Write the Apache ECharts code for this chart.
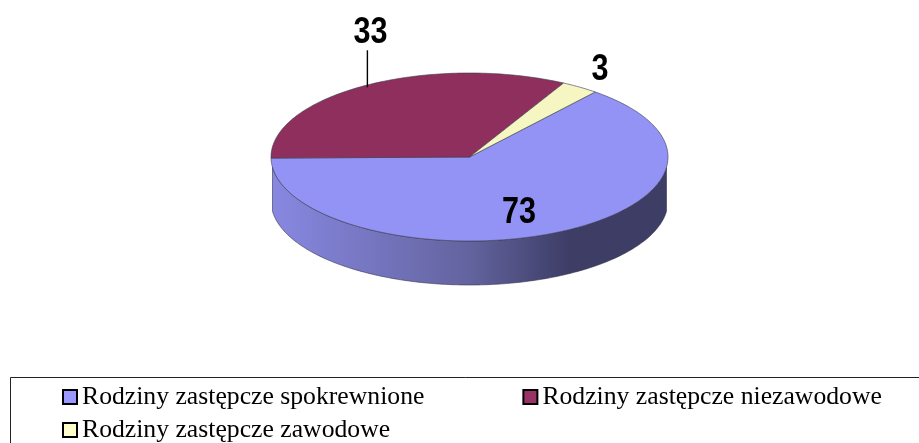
<!DOCTYPE html>
<html>
<head>
<meta charset="utf-8">
<style>
  html, body { margin: 0; padding: 0; background: #fff; overflow: hidden; }
  #chart { width: 919px; height: 443px; }
</style>
<script src="https://cdn.jsdelivr.net/npm/echarts@6/dist/echarts.min.js"></script>
</head>
<body>
<div id="chart"></div>
<script>
  "use strict";

  var categories = ["Rodziny zastępcze spokrewnione", "Rodziny zastępcze niezawodowe", "Rodziny zastępcze zawodowe"];
  var values = [73, 33, 3];
  var sliceOrder = [0, 2, 1];
  var faceColors = ["#9393F6", "#8F2F5E", "#F6F6C2"];
  var legendColors = ["#9999FF", "#993366", "#FFFFCC"];

  // pie geometry, the disc is an ellipse with a wall below it
  var CX = 469.5, CY = 157, RX = 198.5, RY = 84, DEPTH = 44;
  var START_ANGLE = 173.7;
  var PERSPECTIVE = 7.07;
  var total = values.reduce(function(a, b) { return a + b; }, 0);

  function warp(deg) {
    return deg - PERSPECTIVE * Math.cos(deg * Math.PI / 180);
  }

  // angles grow through the bottom of the disc, so the first slice wraps round the front
  function sliceRange(i) {
    var before = 0;
    for(var k = 0; sliceOrder[k] !== i; k++) {
      before += values[sliceOrder[k]];
    }
    var from = START_ANGLE + before / total * 360;
    return [from, from + values[i] / total * 360];
  }

  function onRim(deg, dy) {
    var a = warp(deg) * Math.PI / 180;
    return [CX + RX * Math.cos(a), CY - RY * Math.sin(a) + (dy || 0)];
  }

  function arc(from, to, dy) {
    var pts = [];
    for(var d = from; d < to; d += 1) {
      pts.push(onRim(d, dy));
    }
    pts.push(onRim(to, dy));
    return pts;
  }

  function wallPoints(from, to) {
    // only the part facing the viewer has a wall
    var a = Math.max(from, 180), b = Math.min(to, 360);
    if(b <= a) {
      return null;
    }
    return arc(a, b, 0).concat(arc(a, b, DEPTH).reverse());
  }

  var labelPlaces = [
    {r: 0.7, dx: -1, dy: 1, leader: false},
    {r: 1, dx: 8, dy: -53, leader: true},
    {r: 1, dx: 20, dy: -17, leader: false}
  ];

  function makeRenderItem(i) {
    return function() {
      var range = sliceRange(i);
      var children = [];
      var wall = wallPoints(range[0], range[1]);
      if(wall) {
        children.push({
          type: "polygon",
          shape: {points: wall},
          style: {
            fill: new echarts.graphic.LinearGradient(CX - RX, 0, CX + RX, 0, [
              {offset: 0, color: "#8888E2"},
              {offset: 0.5, color: "#63639F"},
              {offset: 0.75, color: "#3D3D66"},
              {offset: 1, color: "#3D3D66"}
            ], true),
            stroke: "#33334d",
            lineWidth: 0.6
          }
        });
      }
      children.push({
        type: "polygon",
        shape: {points: [[CX, CY]].concat(arc(range[0], range[1], 0))},
        style: {fill: faceColors[i], stroke: "#3a3a4a", lineWidth: 0.6}
      });

      var mid = warp((range[0] + range[1]) / 2) * Math.PI / 180;
      var place = labelPlaces[i];
      var x = CX + RX * place.r * Math.cos(mid) + place.dx;
      var y = CY - RY * place.r * Math.sin(mid);
      if(place.leader) {
        children.push({
          type: "line",
          shape: {x1: x - 3, y1: y + 1, x2: x - 3, y2: y - 36},
          style: {stroke: "#000", lineWidth: 1.4}
        });
      }
      children.push({
        type: "text",
        z2: 10,
        x: x,
        y: y + place.dy,
        scaleX: 0.85,
        style: {
          text: String(values[i]),
          x: 0,
          y: 0,
          align: "center",
          verticalAlign: "middle",
          fontFamily: "Liberation Sans",
          fontWeight: "bold",
          fontSize: 36,
          fill: "#000"
        }
      });
      return {type: "group", children: children};
    };
  }

  var series = categories.map(function(name, i) {
    return {
      type: "custom",
      name: name,
      coordinateSystem: "none",
      silent: true,
      animation: false,
      itemStyle: {color: legendColors[i]},
      data: [values[i]],
      renderItem: makeRenderItem(i)
    };
  });

  function legendRow(names, top) {
    return {
      data: names,
      left: 62,
      top: top,
      padding: 0,
      itemGap: 98,
      itemWidth: 14,
      itemHeight: 14,
      icon: "rect",
      inactiveColor: "#000",
      selectedMode: false,
      itemStyle: {borderColor: "#000", borderWidth: 2},
      textStyle: {fontFamily: "Liberation Serif", fontSize: 25.7, color: "#000", padding: [0, 0, 3, 0]}
    };
  }

  var myChart = echarts.init(document.getElementById("chart"), null, {renderer: "canvas"});
  myChart.setOption({
    animation: false,
    graphic: [{
      type: "rect",
      left: 8,
      top: 375,
      shape: {width: 930, height: 90},
      style: {fill: "none", stroke: "#222", lineWidth: 1}
    }],
    legend: [
      legendRow(categories.slice(0, 2), 384),
      legendRow(categories.slice(2), 417)
    ],
    series: series
  });
</script>
</body>
</html>
